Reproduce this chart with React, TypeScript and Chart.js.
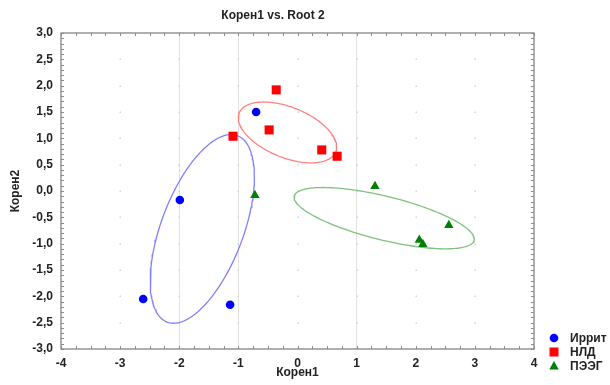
import React, { useEffect, useRef } from 'react';
import { Chart, registerables } from 'chart.js';

Chart.register(...registerables);

// ---- data ----
const groupNames = ['Иррит', 'НЛД', 'ПЭЭГ'];
const irritX = [-0.70, -1.99, -2.61, -1.14];
const irritY = [1.50, -0.17, -2.05, -2.16];
const nldX = [-0.36, -1.09, -0.48, 0.41, 0.67];
const nldY = [1.92, 1.04, 1.16, 0.78, 0.66];
const peegX = [-0.72, 1.31, 2.56, 2.06, 2.12];
const peegY = [-0.08, 0.09, -0.65, -0.93, -1.01];
// size factor of each group's covariance ellipse (in standard deviations)
const ellipseScale = [1.03, 1.17, 1.17];
const xTicks = [-4, -3, -2, -1, 0, 1, 2, 3, 4];
const yTicks = [-3, -2.5, -2, -1.5, -1, -0.5, 0, 0.5, 1, 1.5, 2, 2.5, 3];
const titleText = 'Корен1 vs. Root 2';
const xTitle = 'Корен1';
const yTitle = 'Корен2';

const pointColors = ['#0000ff', '#ff0000', '#008000'];
const ellipseColors = ['#8080ff', '#ff8080', '#80c080'];
const pointStyles = ['circle', 'rect', 'triangle'];
const pointRadii = [4.3, 6.4, 5.4];

const FONT = "'Liberation Sans', Arial, sans-serif";

function toPoints(xs: number[], ys: number[]) {
  return xs.map((x, i) => ({ x, y: ys[i] }));
}

function covEllipse(xs: number[], ys: number[], k: number) {
  const n = xs.length;
  const mx = xs.reduce((a, b) => a + b, 0) / n;
  const my = ys.reduce((a, b) => a + b, 0) / n;
  let sxx = 0, syy = 0, sxy = 0;
  for (let i = 0; i < n; i++) {
    sxx += (xs[i] - mx) ** 2;
    syy += (ys[i] - my) ** 2;
    sxy += (xs[i] - mx) * (ys[i] - my);
  }
  sxx /= n - 1; syy /= n - 1; sxy /= n - 1;
  const a = Math.sqrt(sxx);
  const b = sxy / a;
  const c = Math.sqrt(Math.max(syy - b * b, 0));
  const pts: { x: number; y: number }[] = [];
  const steps = 160;
  for (let i = 0; i <= steps; i++) {
    const t = (i / steps) * Math.PI * 2;
    pts.push({
      x: mx + k * a * Math.cos(t),
      y: my + k * (b * Math.cos(t) + c * Math.sin(t)),
    });
  }
  return pts;
}

const groupsX = [irritX, nldX, peegX];
const groupsY = [irritY, nldY, peegY];

const decorPlugin = {
  id: 'decor',
  beforeDatasetsDraw(chart: any) {
    const { ctx, chartArea, scales } = chart;
    const xs = scales.x, ys = scales.y;
    ctx.save();
    ctx.fillStyle = '#d4d4d4';
    xTicks.forEach((xv) => {
      yTicks.forEach((yv) => {
        const px = Math.round(xs.getPixelForValue(xv));
        const py = Math.round(ys.getPixelForValue(yv));
        if (px > chartArea.left + 1 && px < chartArea.right - 1 && py > chartArea.top + 1 && py < chartArea.bottom - 1) {
          ctx.fillRect(px - 0.5, py - 0.5, 1.5, 1.5);
        }
      });
    });
    ctx.restore();
  },
  afterDatasetsDraw(chart: any) {
    const { ctx, chartArea, scales } = chart;
    const xs = scales.x, ys = scales.y;
    const { left, right, top, bottom } = chartArea;
    ctx.save();
    ctx.strokeStyle = '#7a7a7a';
    ctx.lineWidth = 1.2;
    ctx.strokeRect(left, top, right - left, bottom - top);
    ctx.lineWidth = 1;
    ctx.strokeStyle = '#8a8a8a';
    ctx.beginPath();
    for (let v = -4; v <= 4.0001; v += 0.25) {
      const px = Math.round(xs.getPixelForValue(v)) + 0.5;
      ctx.moveTo(px, top); ctx.lineTo(px, top + 3);
      ctx.moveTo(px, bottom); ctx.lineTo(px, bottom - 3);
    }
    for (let v = -3; v <= 3.0001; v += 0.1) {
      const py = Math.round(ys.getPixelForValue(v)) + 0.5;
      ctx.moveTo(left, py); ctx.lineTo(left + 3, py);
      ctx.moveTo(right, py); ctx.lineTo(right - 3, py);
    }
    ctx.stroke();
    ctx.restore();
  },
  afterDraw(chart: any) {
    const { ctx } = chart;
    ctx.save();
    ctx.fillStyle = '#222';
    ctx.font = `bold 12px ${FONT}`;
    ctx.textAlign = 'center';
    ctx.textBaseline = 'middle';
    ctx.fillText(titleText, 273, 16);
    ctx.textAlign = 'left';
    const ly = [338, 352, 366];
    groupNames.forEach((name, i) => {
      const cx = 554, cy = ly[i];
      ctx.fillStyle = pointColors[i];
      ctx.beginPath();
      if (i === 0) {
        ctx.arc(cx, cy, 4.3, 0, Math.PI * 2);
      } else if (i === 1) {
        ctx.rect(cx - 4.5, cy - 4.5, 9, 9);
      } else {
        ctx.moveTo(cx, cy - 5);
        ctx.lineTo(cx + 4.7, cy + 3.5);
        ctx.lineTo(cx - 4.7, cy + 3.5);
        ctx.closePath();
      }
      ctx.fill();
      ctx.fillStyle = '#222';
      ctx.font = `bold 12px ${FONT}`;
      ctx.fillText(name, 570, cy + 0.5);
    });
    ctx.restore();
  },
};

export default function App() {
  const canvasRef = useRef<HTMLCanvasElement | null>(null);

  useEffect(() => {
    document.body.style.margin = '0';
    const canvas = canvasRef.current;
    if (!canvas) return;

    const pointSets = groupNames.map((name, i) => ({
      type: 'scatter' as const,
      label: name,
      data: toPoints(groupsX[i], groupsY[i]),
      pointStyle: pointStyles[i],
      pointRadius: pointRadii[i],
      pointHoverRadius: pointRadii[i],
      backgroundColor: pointColors[i],
      borderColor: pointColors[i],
      borderWidth: 0,
      showLine: false,
    }));
    const ellipseSets = groupNames.map((name, i) => ({
      type: 'scatter' as const,
      label: name + ' ellipse',
      data: covEllipse(groupsX[i], groupsY[i], ellipseScale[i]),
      showLine: true,
      pointRadius: 0,
      borderColor: ellipseColors[i],
      borderWidth: 1.3,
      fill: false,
      tension: 0,
    }));

    const tickFont = { family: FONT, size: 12, weight: 'bold' as const };

    const chart = new Chart(canvas, {
      type: 'scatter',
      data: { datasets: [...pointSets, ...ellipseSets] as any },
      options: {
        animation: false,
        responsive: false,
        devicePixelRatio: 1,
        layout: { padding: { top: 33, right: 76, left: 0, bottom: 0 } },
        plugins: {
          legend: { display: false },
          title: { display: false },
          tooltip: { enabled: false },
        },
        scales: {
          x: {
            type: 'linear',
            min: -4,
            max: 4,
            afterFit: (s: any) => { s.height = 36; },
            afterBuildTicks: (s: any) => { s.ticks = xTicks.map((v) => ({ value: v })); },
            ticks: {
              color: '#222',
              font: tickFont,
              padding: 7,
              maxRotation: 0,
              callback: (v: any) => String(v),
            },
            grid: {
              drawTicks: false,
              color: (c: any) => ([-2, -1, 1].includes(c.tick?.value) ? '#e2e2e2' : 'rgba(0,0,0,0)'),
              lineWidth: 1,
            },
            border: { display: false },
            title: {
              display: true,
              text: xTitle,
              color: '#222',
              font: tickFont,
              padding: { top: 0, bottom: 5 },
            },
          },
          y: {
            type: 'linear',
            min: -3,
            max: 3,
            afterFit: (s: any) => { s.width = 61; },
            afterBuildTicks: (s: any) => { s.ticks = yTicks.map((v) => ({ value: v })); },
            ticks: {
              color: '#222',
              font: tickFont,
              padding: 8,
              callback: (v: any) => Number(v).toFixed(1).replace('.', ','),
            },
            grid: { display: false, drawTicks: false },
            border: { display: false },
            title: {
              display: true,
              text: yTitle,
              color: '#222',
              font: tickFont,
              padding: { top: 8, bottom: 0 },
            },
          },
        },
      },
      plugins: [decorPlugin],
    } as any);

    return () => chart.destroy();
  }, []);

  return (
    <div style={{ width: 610, height: 385, background: '#fff' }}>
      <canvas ref={canvasRef} width={610} height={385} style={{ display: 'block' }} />
    </div>
  );
}
